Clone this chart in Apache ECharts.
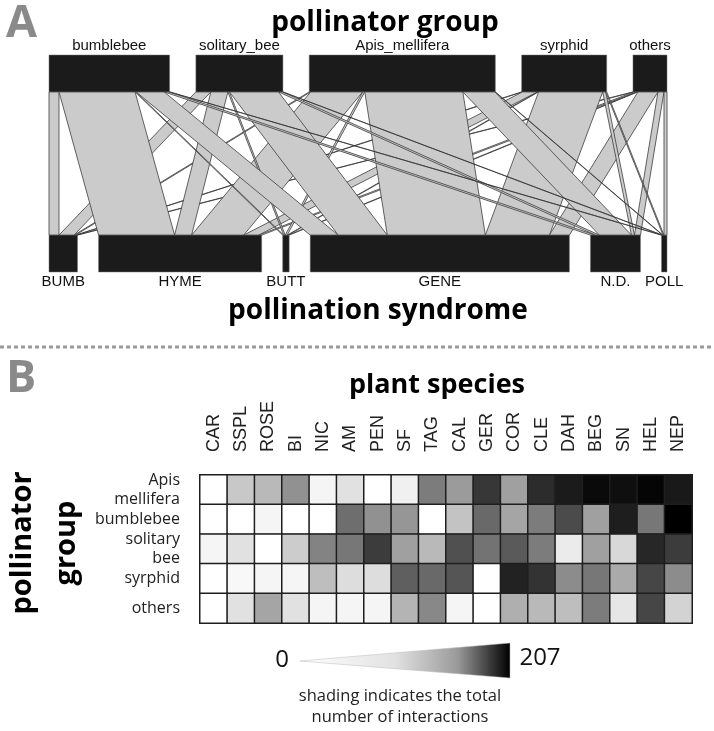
<!DOCTYPE html>
<html><head><meta charset="utf-8">
<script src="https://cdn.jsdelivr.net/npm/echarts@6/dist/echarts.min.js"></script>
<style>html,body{margin:0;padding:0;background:#fff;}#c{width:714px;height:731px;}</style>
</head><body><div id="c"></div>
<script>
// ---------- Panel A data: interactions pollinator group x pollination syndrome ----------
const pollinatorGroups = ['bumblebee', 'solitary_bee', 'Apis_mellifera', 'syrphid', 'others'];
const syndromes = ['BUMB', 'HYME', 'BUTT', 'GENE', 'N.D.', 'POLL'];
//                     BUMB HYME BUTT GENE N.D. POLL
const bumblebeeLinks  = [20, 152, 2,  56,  10, 1];
const solitaryLinks   = [30, 34,  3,  98,  8,  1];
const apisLinks       = [3,  104, 4,  196, 64, 1];
const syrphidLinks    = [2,  30,  2,  128, 6,  2];
const othersLinks     = [2,  6,   2,  40,  12, 6];

// ---------- Panel B data: pollinator group x plant species ----------
const plantSpecies = ['CAR','SSPL','ROSE','BI','NIC','AM','PEN','SF','TAG','CAL','GER','COR','CLE','DAH','BEG','SN','HEL','NEP'];
const heatRowLabels = ['Apis\nmellifera', 'bumblebee', 'solitary\nbee', 'syrphid', 'others'];
const apisRow      = [0, 45, 57, 89, 8, 24, 0, 12, 106, 81, 162, 77, 171, 185, 199, 195, 203, 187];
const bumblebeeRow = [0, 0, 8, 0, 0, 118, 89, 85, 0, 49, 122, 73, 106, 146, 77, 183, 110, 207];
const solitaryRow  = [8, 24, 0, 41, 101, 110, 158, 77, 57, 142, 114, 134, 106, 16, 77, 32, 175, 158];
const syrphidRow   = [0, 6, 8, 8, 53, 28, 28, 130, 122, 138, 0, 179, 166, 93, 110, 69, 150, 93];
const othersRow    = [0, 24, 73, 24, 8, 8, 8, 61, 97, 8, 0, 65, 57, 53, 106, 20, 150, 36];
const scaleMin = 0, scaleMax = 207;

// ---------- build bipartite layout (plotweb style) ----------
const web = [bumblebeeLinks, solitaryLinks, apisLinks, syrphidLinks, othersLinks];
const rowSum = web.map(r => r.reduce((a, b) => a + b, 0));
const colSum = syndromes.map((_, j) => web.reduce((a, r) => a + r[j], 0));
const total = rowSum.reduce((a, b) => a + b, 0);
const gapLow = total * 0.041;
const gapUp = gapLow * (syndromes.length - 1) / (pollinatorGroups.length - 1);
const span = total + gapLow * (syndromes.length - 1);
const upStart = []; let acc = 0;
rowSum.forEach(s => { upStart.push(acc); acc += s + gapUp; });
const lowStart = []; acc = 0;
colSum.forEach(s => { lowStart.push(acc); acc += s + gapLow; });
const topPos = web.map((r, i) => { let c = upStart[i]; return r.map(v => { const p = c; c += v; return p; }); });
const lowPos = web.map(() => []);
syndromes.forEach((_, j) => { let c = lowStart[j]; web.forEach((r, i) => { lowPos[i][j] = c; c += r[j]; }); });
const linkData = [];
syndromes.forEach((_, j) => {
  web.forEach((r, i) => {
    const v = r[j];
    if (v > 0) linkData.push([topPos[i][j], topPos[i][j] + v, lowPos[i][j], lowPos[i][j] + v]);
  });
});
const boxData = [], boxNames = [];
pollinatorGroups.forEach((n, i) => { boxData.push([upStart[i], upStart[i] + rowSum[i], 1]); boxNames.push(n); });
syndromes.forEach((n, j) => { boxData.push([lowStart[j], lowStart[j] + colSum[j], 0]); boxNames.push(n); });
const Y_TOP1 = 100, Y_TOP0 = 83, Y_LOW1 = 17, Y_LOW0 = 0;

const heatRows = [apisRow, bumblebeeRow, solitaryRow, syrphidRow, othersRow];
const heatData = [];
heatRows.forEach((row, y) => row.forEach((v, x) => heatData.push([x, y, v])));

const chart = echarts.init(document.getElementById('c'), null, { renderer: 'canvas' });
const titleFont = 'bold 28px "Open Sans"';
chart.setOption({
  animation: false,
  backgroundColor: '#ffffff',
  grid: [
    { left: 49, top: 55, width: 618, height: 217 },
    { left: 200, top: 475, width: 492, height: 148 }
  ],
  xAxis: [
    { gridIndex: 0, type: 'value', min: 0, max: span, show: false },
    { gridIndex: 1, type: 'category', data: plantSpecies, position: 'top',
      axisLine: { show: false }, axisTick: { show: false }, splitLine: { show: false },
      axisLabel: { rotate: -90, margin: 23, fontSize: 18, color: '#222', fontFamily: '"Liberation Sans", Arial, sans-serif', interval: 0 } }
  ],
  yAxis: [
    { gridIndex: 0, type: 'value', min: 0, max: 100, show: false },
    { gridIndex: 1, type: 'category', data: heatRowLabels, inverse: true,
      axisLine: { show: false }, axisTick: { show: false }, splitLine: { show: false },
      axisLabel: { margin: 20, fontSize: 16, lineHeight: 19, color: '#222', fontFamily: '"Open Sans", sans-serif', interval: 0, align: 'right' } }
  ],
  visualMap: { show: false, type: 'continuous', min: scaleMin, max: scaleMax, seriesIndex: 2,
    inRange: { color: ['#ffffff', '#000000'] } },
  series: [
    { type: 'custom', xAxisIndex: 0, yAxisIndex: 0, data: linkData, silent: true,
      renderItem: (params, api) => {
        const a = api.coord([api.value(0), Y_TOP0]);
        const b = api.coord([api.value(1), Y_TOP0]);
        const c = api.coord([api.value(3), Y_LOW1]);
        const d = api.coord([api.value(2), Y_LOW1]);
        return { type: 'polygon', shape: { points: [a, b, c, d] },
          style: { fill: '#cbcbcb', stroke: '#333', lineWidth: 0.75 } };
      } },
    { type: 'custom', xAxisIndex: 0, yAxisIndex: 0, data: boxData, silent: true,
      renderItem: (params, api) => {
        const top = api.value(2) === 1;
        const p0 = api.coord([api.value(0), top ? Y_TOP1 : Y_LOW1]);
        const p1 = api.coord([api.value(1), top ? Y_TOP0 : Y_LOW0]);
        const cx = (p0[0] + p1[0]) / 2;
        return { type: 'group', children: [
          { type: 'rect', shape: { x: p0[0], y: p0[1], width: p1[0] - p0[0], height: p1[1] - p0[1] },
            style: { fill: '#1b1b1b', stroke: '#777', lineWidth: 0.5 } },
          { type: 'text', style: { text: boxNames[params.dataIndex], x: cx, y: top ? p0[1] - 9 : p1[1] + 10,
            align: 'center', verticalAlign: 'middle', fill: '#111',
            font: '15px "Liberation Sans", Arial, sans-serif' } }
        ] };
      } },
    { type: 'heatmap', xAxisIndex: 1, yAxisIndex: 1, data: heatData,
      itemStyle: { borderColor: '#1e1e1e', borderWidth: 1.5 },
      emphasis: { disabled: true } }
  ],
  graphic: [
    { type: 'text', left: 6, top: 2, style: { text: 'A', font: 'bold 45px "Open Sans"', fill: '#8a8a8a' } },
    { type: 'text', x: 385, y: 23, style: { text: 'pollinator group', font: titleFont, fill: '#000', align: 'center', verticalAlign: 'middle' } },
    { type: 'text', x: 378, y: 311, style: { text: 'pollination syndrome', font: titleFont, fill: '#000', align: 'center', verticalAlign: 'middle' } },
    { type: 'line', shape: { x1: 0, y1: 347, x2: 714, y2: 347 }, style: { stroke: '#9a9a9a', lineWidth: 3, lineDash: [4, 3] } },
    { type: 'text', left: 6, top: 357, style: { text: 'B', font: 'bold 45px "Open Sans"', fill: '#8a8a8a' } },
    { type: 'text', x: 437, y: 385, style: { text: 'plant species', font: 'bold 27px "Open Sans"', fill: '#000', align: 'center', verticalAlign: 'middle' } },
    { type: 'text', x: 45, y: 543, rotation: Math.PI / 2,
      style: { text: 'pollinator\ngroup', font: 'bold 29px "Open Sans"', lineHeight: 44, fill: '#000', align: 'center', verticalAlign: 'middle' } },
    { type: 'polygon', shape: { points: [[300, 661], [510, 643], [510, 678]] },
      style: { stroke: '#bbb', lineWidth: 0.5,
        fill: new echarts.graphic.LinearGradient(0, 0, 1, 0, [
          { offset: 0, color: '#ffffff' }, { offset: 0.45, color: '#e2e2e2' },
          { offset: 0.75, color: '#9a9a9a' }, { offset: 1, color: '#000000' }]) } },
    { type: 'text', x: 282, y: 660, style: { text: String(scaleMin), font: '24px "Open Sans"', fill: '#111', align: 'center', verticalAlign: 'middle' } },
    { type: 'text', x: 540, y: 658, style: { text: String(scaleMax), font: '24px "Open Sans"', fill: '#111', align: 'center', verticalAlign: 'middle' } },
    { type: 'text', x: 400, y: 696, style: { text: 'shading indicates the total', font: '16.5px "Open Sans"', fill: '#222', align: 'center', verticalAlign: 'middle' } },
    { type: 'text', x: 400, y: 717, style: { text: 'number of interactions', font: '16.5px "Open Sans"', fill: '#222', align: 'center', verticalAlign: 'middle' } }
  ]
});
</script></body></html>
